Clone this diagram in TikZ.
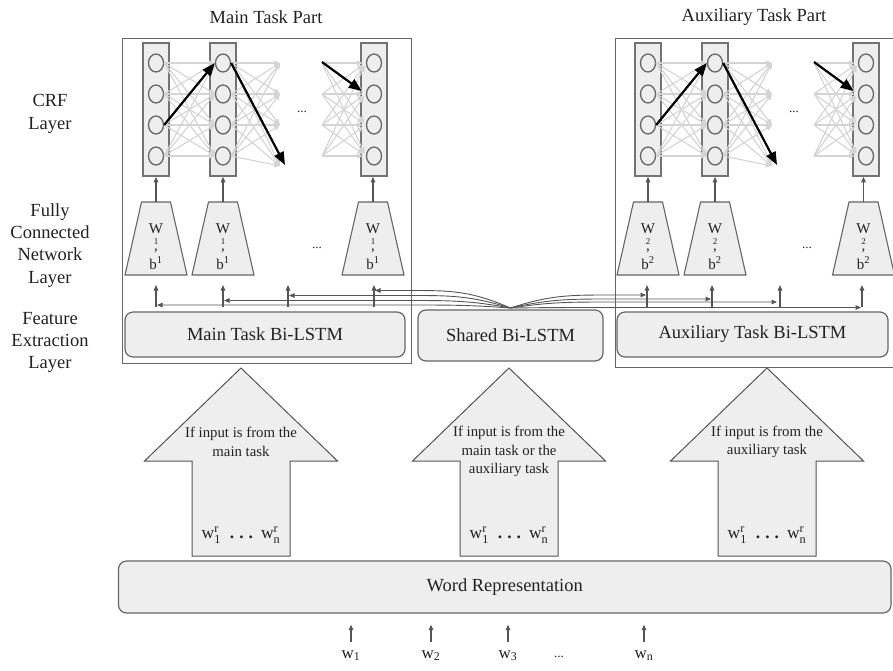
\documentclass[tikz,border=0pt]{standalone}
\usepackage{fontspec}
\setmainfont{Liberation Serif}
\usetikzlibrary{arrows.meta,shapes.geometric}
\definecolor{boxfill}{HTML}{EEEEEE}
\definecolor{boxline}{HTML}{666666}
\definecolor{glinkc}{HTML}{D4D4D4}
\definecolor{arrc}{HTML}{555555}
\definecolor{txt}{HTML}{222222}

\newcommand\CrfBlock[2]{%
  \foreach \cc/\cx in {1/156,2/223,3/374}{%
    \node[col] (#1\cc) at (#2+\cx,109.5) {};
    \foreach \k/\yy in {1/63,2/94,3/125,4/156}{%
      \node[neuron] (#1\cc c\k) at (#2+\cx,\yy) {};
    }%
  }%
  \foreach \k/\yy in {1/63,2/94,3/125,4/166}{\coordinate (#1p\k) at (#2+280,\yy);}%
  \foreach \k/\yy in {1/63,2/94,3/125,4/156}{\coordinate (#1q\k) at (#2+322,\yy);}%
  \foreach \i in {1,2,3,4}{\foreach \j in {1,2,3,4}{%
    \draw[glink] (#11c\i.east) -- (#12c\j.west);
    \draw[glink] (#12c\i.east) -- (#1p\j);
    \draw[glink, shorten >=3pt] (#1q\i) -- (#13c\j.west);
  }}%
  \node[dotsc] (#1dots) at (#2+302,112) {...};
  \draw[barrow] (#11c3.east) -- (#12c1.west);
  \coordinate (#1bt) at (#2+285,165);
  \draw[barrow] (#12c1.east) -- (#1bt);
  \coordinate (#1bs) at (#2+322,62);
  \draw[barrow, shorten >=5pt] (#1bs) -- (#13c2.west);
}

\newcommand\FcUnit[4]{%
  \draw[trap] (#2-31,275) -- (#2-14.5,202) -- (#2+14.5,202) -- (#2+31,275) -- cycle;
  \node[fctext] (#1W) at (#2,233) {W};
  \node[fcsmall] (#1s) at (#2,244) {#3};
  \node[fctext] (#1c) at (#2,250) {,};
  \node[fctext] (#1b) at (#2,269) {b\textsuperscript{#3}};
  \coordinate (#1top) at (#2,202);
  \draw[uparr] (#1top) -- (#1top |- #4.south);
}

\newcommand\WrSeq{$\mathrm{w}^{\mathrm{r}}_{\mathrm{1}}$\hspace{9pt}\textbf{.}\hspace{5pt}\textbf{.}\hspace{5pt}\textbf{.}\hspace{8pt}$\mathrm{w}^{\mathrm{r}}_{\mathrm{n}}$}

\begin{document}
\begin{tikzpicture}[x=1pt,y=-1pt,
  lbl/.style={font=\fontsize{18.5}{22.4}\selectfont, text=txt, align=center, inner sep=0},
  outerbox/.style={draw=boxline, line width=1pt, inner sep=0},
  lstm/.style={draw=boxline, fill=boxfill, line width=1.2pt, rounded corners=8pt, font=\fontsize{18.5}{22}\selectfont, text=txt, inner sep=0},
  col/.style={draw=black!55, fill=boxfill, line width=1.6pt, minimum width=26pt, minimum height=133pt, inner sep=0},
  neuron/.style={ellipse, draw=black!60, fill=boxfill, line width=1.3pt, minimum width=15pt, minimum height=18pt, inner sep=0},
  glink/.style={draw=glinkc, line width=1.1pt, -{Triangle[length=6pt,width=5pt]}},
  barrow/.style={draw=black, line width=2.2pt, -{Triangle[length=13pt,width=10pt]}},
  uparr/.style={draw=arrc, line width=1.1pt, -{Triangle[length=5.5pt,width=4.5pt]}},
  link/.style={draw=arrc, line width=0.9pt, -{Triangle[length=5.5pt,width=4.5pt]}},
  trap/.style={draw=boxline, fill=boxfill, line width=1.1pt},
  fctext/.style={anchor=base, font=\fontsize{15}{15}\selectfont, text=txt, inner sep=0},
  fcsmall/.style={anchor=base, font=\fontsize{9}{9}\selectfont, text=txt, inner sep=0},
  bigarrow/.style={draw=arrc, fill=boxfill, line width=1pt},
  arrtext/.style={font=\fontsize{14.8}{18.5}\selectfont, text=txt, align=center, inner sep=0},
  wrtext/.style={font=\fontsize{17.5}{18}\selectfont, text=txt, inner sep=0},
  wlab/.style={font=\fontsize{17}{18}\selectfont, text=txt, inner sep=0},
  dotsc/.style={font=\fontsize{13}{13}\selectfont, text=txt, inner sep=0},
]
\useasboundingbox (0,0) rectangle (893,670);

% titles and layer labels
\node[lbl] (t1) at (266,17) {Main Task Part};
\node[lbl] (t2) at (754,17) {Auxiliary Task Part};
\node[lbl] (l1) at (50,114) {CRF\\Layer};
\node[lbl] (l2) at (50,245.3) {Fully\\Connected\\Network\\Layer};
\node[lbl] (l3) at (50,342.5) {Feature\\Extraction\\Layer};

% outer part boxes
\node[outerbox, minimum width=289pt, minimum height=325pt] (mainpart) at (266.5,200.5) {};
\node[outerbox, minimum width=285pt, minimum height=329pt] (auxpart) at (757.5,202.5) {};

% CRF layers
\CrfBlock{m}{0}
\CrfBlock{a}{492}

% fully connected layers
\FcUnit{mf1}{156}{1}{m1}
\FcUnit{mf2}{223}{1}{m2}
\FcUnit{mf3}{373}{1}{m3}
\FcUnit{af1}{648}{2}{a1}
\FcUnit{af2}{715}{2}{a2}
\FcUnit{af3}{863.5}{2}{a3}
\node[dotsc] (mfdots) at (317,248) {...};
\node[dotsc] (afdots) at (807,248) {...};

% Bi-LSTM boxes
\node[lstm, minimum width=280pt, minimum height=45pt] (mlstm) at (265,334.5) {Main Task Bi-LSTM};
\node[lstm, minimum width=185pt, minimum height=51pt] (slstm) at (510.5,335.5) {Shared Bi-LSTM};
\node[lstm, minimum width=271pt, minimum height=45pt] (alstm) at (752.5,334.5) {Auxiliary Task Bi-LSTM};

% vertical arrows into FC layers
\foreach \vx [count=\n] in {156,223,288,374,647,712,780,862}{%
  \coordinate (vb\n) at (\vx,307);
  \coordinate (vt\n) at (\vx,285);
  \draw[uparr] (vb\n) -- (vt\n);
}

% shared links
\coordinate (hub) at (510.5,308);
\foreach \tx/\ty [count=\n] in {157/305, 224/300.5, 289/295.5, 375/290.5}{%
  \coordinate (lt\n) at (\tx,\ty);
  \draw[link] (hub) .. controls (470,\ty) and (450,\ty) .. (410,\ty) -- (lt\n);
}
\foreach \tx/\ty [count=\n] in {646/295, 711/299, 777/302, 861/307.5}{%
  \coordinate (rt\n) at (\tx,\ty);
  \draw[link] (hub) .. controls (550,\ty) and (570,\ty) .. (610,\ty) -- (rt\n);
}

% big input arrows
\foreach \ax in {241,509,767}{%
  \draw[bigarrow] (\ax,368) -- (\ax+96.5,461) -- (\ax+49,461) -- (\ax+49,556) -- (\ax-49,556) -- (\ax-49,461) -- (\ax-96.5,461) -- cycle;
}
\node[arrtext] (lat) at (241,442) {If input is from the\\main task};
\node[arrtext] (mat) at (509,451.5) {If input is from the\\main task or the\\auxiliary task};
\node[arrtext] (rat) at (767,442) {If input is from the\\auxiliary task};
\node[wrtext] (law) at (241,535) {\WrSeq};
\node[wrtext] (maw) at (509,535) {\WrSeq};
\node[wrtext] (raw) at (767,535) {\WrSeq};

% word representation
\node[lstm, minimum width=772.5pt, minimum height=52pt] (word) at (504.75,587) {Word Representation};

% input words
\foreach \wx/\ws/\nm in {351/1/w1, 431/2/w2, 508/3/w3, 644/n/wn}{%
  \node[wlab, anchor=north] (\nm) at (\wx,650) {$\mathrm{w}_{\mathrm{\ws}}$};
  \draw[uparr, shorten <=8pt, shorten >=11pt] (\nm.north) -- (\nm.north |- word.south);
}
\node[dotsc] (wdots) at (559,657) {...};
\end{tikzpicture}
\end{document}
